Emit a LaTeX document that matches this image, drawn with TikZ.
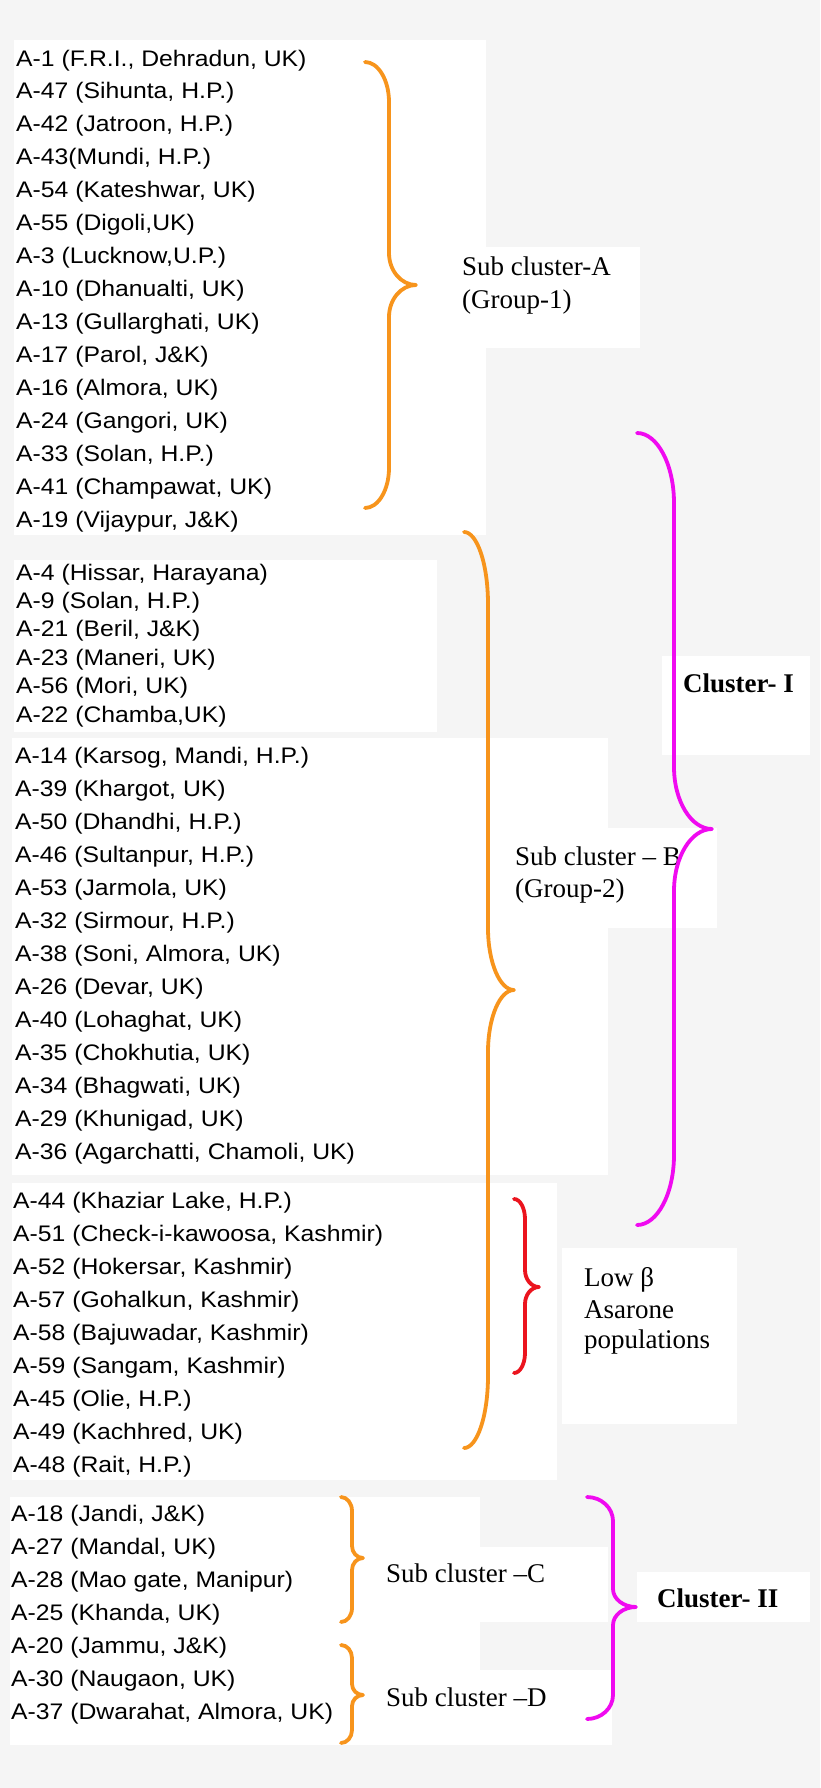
\documentclass[tikz,border=0pt]{standalone}
\usepackage{fontspec}
\newfontfamily\listfont[FakeStretch=1.1]{Liberation Sans}
\newfontfamily\serfont{Liberation Serif}
\definecolor{bg}{RGB}{245,245,245}
\definecolor{braceorange}{RGB}{247,148,28}
\definecolor{bracemagenta}{RGB}{240,10,240}
\definecolor{bracered}{RGB}{235,20,30}
% #1 style, #2 end x, #3 top y, #4 spine x, #5 tip x, #6 tip y, #7 bottom y, #8 end radius, #9 tip radius
\newcommand\mybrace[9]{%
  \draw[#1] (#2,#3) .. controls ({#2+0.55*(#4-#2)},#3) and (#4,{#3+0.45*#8}) .. (#4,#3+#8)
    -- (#4,#6-#9)
    .. controls (#4,{#6-0.45*#9}) and ({#4+0.45*(#5-#4)},#6) .. (#5,#6)
    .. controls ({#4+0.45*(#5-#4)},#6) and (#4,{#6+0.45*#9}) .. (#4,#6+#9)
    -- (#4,#7-#8)
    .. controls (#4,{#7-0.45*#8}) and ({#2+0.55*(#4-#2)},#7) .. (#2,#7);}
\tikzset{
  item/.style={anchor=base west, inner sep=0pt, font=\listfont\fontsize{22.5}{27}\selectfont},
  lab/.style={anchor=base west, inner sep=0pt, font=\serfont\fontsize{27}{32}\selectfont},
  labb/.style={anchor=base west, inner sep=0pt, font=\serfont\bfseries\fontsize{27}{32}\selectfont},
  brace/.style={line width=3.8pt, line cap=round, line join=round},
  wbox/.style={fill=white}
}
\begin{document}
\begin{tikzpicture}[x=1pt,y=-1pt]
\useasboundingbox (0,0) rectangle (820,1788);
\fill[bg] (0,0) rectangle (820,1788);
% white boxes
\fill[wbox] (14,40) rectangle (486,535);
\fill[wbox] (486,247) rectangle (640,348);
\fill[wbox] (14,560) rectangle (437,732);
\fill[wbox] (12,738) rectangle (608,1175);
\fill[wbox] (600,828) rectangle (717,928);
\fill[wbox] (662,656) rectangle (810,755);
\fill[wbox] (12,1183) rectangle (557,1480);
\fill[wbox] (562,1248) rectangle (737,1424);
\fill[wbox] (10,1497) rectangle (480,1745);
\fill[wbox] (480,1547) rectangle (608,1622);
\fill[wbox] (480,1670) rectangle (612,1745);
\fill[wbox] (637,1572) rectangle (810,1622);
% list 1
\foreach \t [count=\i from 0] in {{A-1 (F.R.I., Dehradun, UK)},{A-47 (Sihunta, H.P.)},{A-42 (Jatroon, H.P.)},{A-43(Mundi, H.P.)},{A-54 (Kateshwar, UK)},{A-55 (Digoli,UK)},{A-3 (Lucknow,U.P.)},{A-10 (Dhanualti, UK)},{A-13 (Gullarghati, UK)},{A-17 (Parol, J\&K)},{A-16 (Almora, UK)},{A-24 (Gangori, UK)},{A-33 (Solan, H.P.)},{A-41 (Champawat, UK)},{A-19 (Vijaypur, J\&K)}}
  \node[item] (la\i) at (16,66+32.93*\i) {\t};
% list 2
\foreach \t [count=\i from 0] in {{A-4 (Hissar, Harayana)},{A-9 (Solan, H.P.)},{A-21 (Beril, J\&K)},{A-23 (Maneri, UK)},{A-56 (Mori, UK)},{A-22 (Chamba,UK)}}
  \node[item] (lb\i) at (16,580+28.4*\i) {\t};
% list 3
\foreach \t [count=\i from 0] in {{A-14 (Karsog, Mandi, H.P.)},{A-39 (Khargot, UK)},{A-50 (Dhandhi, H.P.)},{A-46 (Sultanpur, H.P.)},{A-53 (Jarmola, UK)},{A-32 (Sirmour, H.P.)},{A-38 (Soni, Almora, UK)},{A-26 (Devar, UK)},{A-40 (Lohaghat, UK)},{A-35 (Chokhutia, UK)},{A-34 (Bhagwati, UK)},{A-29 (Khunigad, UK)},{A-36 (Agarchatti, Chamoli, UK)}}
  \node[item] (lc\i) at (15,763+33*\i) {\t};
% list 4
\foreach \t [count=\i from 0] in {{A-44 (Khaziar Lake, H.P.)},{A-51 (Check-i-kawoosa, Kashmir)},{A-52 (Hokersar, Kashmir)},{A-57 (Gohalkun, Kashmir)},{A-58 (Bajuwadar, Kashmir)},{A-59 (Sangam, Kashmir)},{A-45 (Olie, H.P.)},{A-49 (Kachhred, UK)},{A-48 (Rait, H.P.)}}
  \node[item] (ld\i) at (13,1208+33.07*\i) {\t};
% list 5
\foreach \t [count=\i from 0] in {{A-18 (Jandi, J\&K)},{A-27 (Mandal, UK)},{A-28 (Mao gate, Manipur)},{A-25 (Khanda, UK)},{A-20 (Jammu, J\&K)},{A-30 (Naugaon, UK)},{A-37 (Dwarahat, Almora, UK)}}
  \node[item] (le\i) at (11,1521.7+33*\i) {\t};
% labels
\node[lab] (subA) at (462,275) {Sub cluster-A};
\node[lab] (grp1) at (462,308) {(Group-1)};
\node[lab] (subB) at (515,865) {Sub cluster – B};
\node[lab] (grp2) at (515,897) {(Group-2)};
\node[labb] (clI) at (683,692) {Cluster- I};
\node[lab] (low1) at (584,1286) {Low β};
\node[lab] (low2) at (584,1318) {Asarone};
\node[lab] (low3) at (584,1348) {populations};
\node[lab] (subC) at (386,1582) {Sub cluster –C};
\node[lab] (subD) at (386,1706) {Sub cluster –D};
\node[labb] (clII) at (657,1607) {Cluster- II};
% braces
\mybrace{brace,braceorange}{365}{62}{389}{416}{285}{508}{40}{32}
\mybrace{brace,braceorange}{464}{532}{488}{514}{990}{1448}{72}{62}
\mybrace{brace,bracemagenta}{637}{433}{674}{712}{829}{1225}{70}{62}
\mybrace{brace,bracered}{514}{1199}{525}{539}{1287}{1373}{20}{17}
\mybrace{brace,braceorange}{341}{1497}{352}{363}{1558}{1622}{14}{12}
\mybrace{brace,braceorange}{341}{1645}{352}{363}{1695}{1743}{13}{11}
\mybrace{brace,bracemagenta}{587}{1497}{613}{636}{1607}{1719}{24}{18}
\end{tikzpicture}
\end{document}
